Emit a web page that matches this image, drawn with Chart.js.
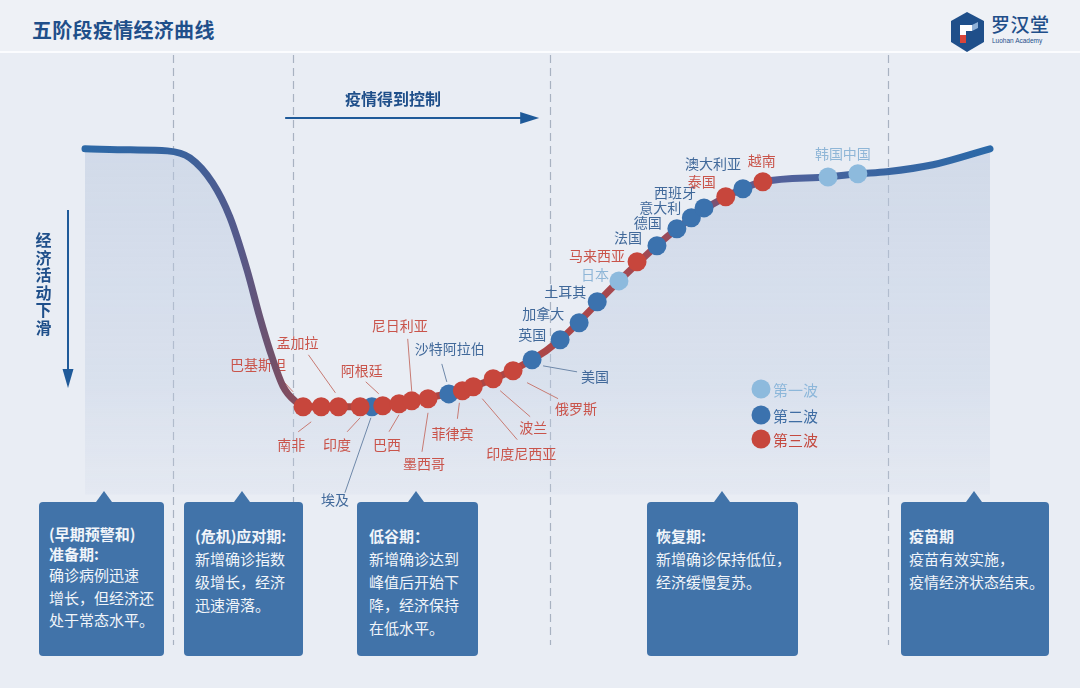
<!DOCTYPE html>
<html><head><meta charset="utf-8">
<script src="https://cdn.jsdelivr.net/npm/chart.js@4.4.0/dist/chart.umd.min.js"></script>
<style>
html,body{margin:0;padding:0;}
body{width:1080px;height:688px;position:relative;overflow:hidden;background:#e9edf4;font-family:"Noto Sans CJK SC","Noto Sans",sans-serif;}
#hdr{position:absolute;left:0;top:0;width:1080px;height:51px;background:#eef1f6;border-bottom:2px solid #fbfcfe;}
#title{position:absolute;left:32px;top:16px;font-size:20px;line-height:28px;font-weight:700;color:#1f4f8a;letter-spacing:0.3px;}
#cv{position:absolute;left:0;top:0;}
#logo{position:absolute;left:948px;top:10px;}
#logoT{position:absolute;left:991px;top:12px;font-size:19px;line-height:24px;color:#1f4f8a;font-weight:500;letter-spacing:0.5px;}
#logoS{position:absolute;left:992px;top:37px;font-size:6.5px;line-height:8px;color:#1f4f8a;font-family:"Liberation Sans",sans-serif;}
#ctrl{position:absolute;left:345px;top:87px;font-size:16px;line-height:22px;font-weight:700;color:#1f4f8a;}
#vt{position:absolute;left:35px;top:231px;width:17px;font-size:16px;line-height:17.6px;font-weight:700;color:#1f4f8a;text-align:center;}
.box{position:absolute;top:502px;height:154px;background:#4173a9;border-radius:4px;color:#f1f5fa;font-size:15px;line-height:23px;padding-top:22px;box-sizing:border-box;}
.box:before{content:"";position:absolute;top:-11px;left:var(--tip);border-left:8px solid transparent;border-right:8px solid transparent;border-bottom:11px solid #4173a9;}
.box b{font-weight:700;}
</style>
</head><body>
<div id="hdr"></div>
<div id="title">五阶段疫情经济曲线</div>
<svg id="logo" width="40" height="44" viewBox="0 0 40 44">
  <polygon points="19,2 36,11 36,32 19,42 3,32 3,11" fill="#1f4f8a"/>
  <polygon points="12,15 24,15 24,21 18,21 18,33 12,33" fill="#ffffff"/>
  <rect x="12" y="25" width="6" height="8" fill="#d9453a"/>
  <polygon points="24,15 30,12 30,18 24,21" fill="#8fb0d6"/>
</svg>
<div id="logoT">罗汉堂</div>
<div id="logoS">Luohan Academy</div>
<canvas id="cv" width="1080" height="688"></canvas>
<div id="ctrl">疫情得到控制</div>
<div id="vt">经<br>济<br>活<br>动<br>下<br>滑</div>

<div class="box" style="left:39px;width:125px;padding-left:10px;--tip:57px;"><b style="line-height:19.5px;display:block;">(早期预警和)<br>准备期:</b><div style="margin-top:1px;line-height:22.5px">确诊病例迅速<br>增长，但经济还<br>处于常态水平。</div></div>
<div class="box" style="left:184px;width:119px;padding-left:11px;--tip:50px;"><b>(危机)应对期:</b><br>新增确诊指数<br>级增长，经济<br>迅速滑落。</div>
<div class="box" style="left:357px;width:121px;padding-left:12px;--tip:51px;"><b>低谷期：</b><br>新增确诊达到<br>峰值后开始下<br>降，经济保持<br>在低水平。</div>
<div class="box" style="left:647px;width:151px;padding-left:9px;--tip:67px;"><b>恢复期:</b><br>新增确诊保持低位，<br>经济缓慢复苏。</div>
<div class="box" style="left:901px;width:148px;padding-left:8px;--tip:65px;"><b>疫苗期</b><br>疫苗有效实施，<br>疫情经济状态结束。</div>

<script>
// ---- data ----
const curveX = [0, 5.0, 9.1, 11.6, 14.1, 16.0, 17.9, 19.3, 20.4, 21.9, 23.4, 24.1, 30.4, 36.1, 42.9, 49.4, 52.5, 59.0, 65.4, 70.8, 74.9, 82.1, 85.4, 88.6, 93.7, 100];
const curveY = [100, 99.6, 99.2, 96.5, 86.8, 73.6, 53.1, 34.9, 22.1, 7.8, 1.6, 0, 0, 2.3, 7.8, 18.2, 26.0, 48.8, 69.0, 81.4, 87.2, 89.1, 90.3, 91.1, 93.8, 100];

const countries = ['巴基斯坦','南非','孟加拉','印度','埃及','阿根廷','巴西','尼日利亚','墨西哥','沙特阿拉伯','菲律宾','印度尼西亚','波兰','俄罗斯','美国','英国','加拿大','土耳其','日本','马来西亚','法国','德国','意大利','西班牙','泰国','澳大利亚','越南','韩国','中国'];
const waves = [3,3,3,3,2,3,3,3,3,2,3,3,3,3,2,2,2,2,1,3,2,2,2,2,3,2,3,1,1];
const stageX = [24.1,26.1,28.0,30.4,31.7,32.9,34.7,36.1,37.9,40.2,41.7,42.9,45.1,47.3,49.4,52.5,54.6,56.6,59.0,61.0,63.2,65.4,67.0,68.4,70.8,72.7,74.9,82.1,85.4];
const economyY = [0,0,0,0,0,0.4,1.2,2.3,3.1,5.0,6.2,7.8,10.9,14.0,18.2,26.0,32.6,40.7,48.8,56.2,62.4,69.0,73.3,77.1,81.4,84.5,87.2,89.1,90.3];

const waveNames = ['第一波','第二波','第三波'];
const phaseBounds = [9.7, 23.0, 51.4, 88.7];
const fillFloor = -34;

// ---- layout / style (pixel offsets of labels relative to their points) ----
const labelLayout = [
  [-45,-42,-24,-30,-10,-15],[-30,38,-23,25,-10,15],[-41,-64,-30,-52,-3,-14],[-23,38,-13,25,0,11],
  [-37,93,-27,86,-1,11],[-21,-35,-17,-24,-4,-12],[-12,41,-10,28,0,11],[-12,-75,-4,-62,0,-10],
  [-4,65,-6,53,0,14],[1,-45,-7,-30,-2,-12],[-10,43,-5,28,-3,12],[48,67,44,53,9,12],
  [40,49,37,38,7,12],[63,38,45,28,14,12],[63,17,45,12,11,6],
  [-28,-5],[-36,-9],[-32,-10],[-24,-6],[-40,-6],[-29,-8],[-29,-6],[-31,-10],[-29,-15],[-24,-15],[-30,-25],[-1,-21],[1,-23],[-1,-20]
];
const pointColors = {1:'#8dbadd', 2:'#3b72ae', 3:'#c7463c'};
const labelColors = {1:'#8fb6d7', 2:'#41699a', 3:'#c9544b'};
const leaderColors = {1:'#9dbad6', 2:'#6d87a8', 3:'#c77a72'};
const FONT = '"Noto Sans CJK SC","Noto Sans",sans-serif';

function waveData(w){
  const out=[];
  for(let i=0;i<countries.length;i++) if(waves[i]===w) out.push({x:stageX[i], y:economyY[i], idx:i});
  return out;
}

const curveData = curveX.map((x,i)=>({x, y:curveY[i]}));

function lineGrad(ctx){
  const ch = ctx.chart, ca = ch.chartArea;
  if(!ca) return '#2d69a7';
  const g = ch.ctx.createLinearGradient(ca.left,0,ca.right,0);
  g.addColorStop(0,'#2d69a7'); g.addColorStop(0.10,'#37639f'); g.addColorStop(0.17,'#55598a');
  g.addColorStop(0.21,'#735068'); g.addColorStop(0.25,'#9a4852'); g.addColorStop(0.28,'#ae453f');
  g.addColorStop(0.55,'#ab4649'); g.addColorStop(0.63,'#a04a55'); g.addColorStop(0.70,'#7a5274');
  g.addColorStop(0.76,'#54609a'); g.addColorStop(0.86,'#3d65a0'); g.addColorStop(1,'#2b69a8');
  return g;
}
function fillGrad(ctx){
  const ch = ctx.chart, ca = ch.chartArea;
  if(!ca) return 'rgba(190,203,224,0.4)';
  const yb = ch.scales.y.getPixelForValue(fillFloor);
  const g = ch.ctx.createLinearGradient(0,ca.top,0,yb);
  g.addColorStop(0,'rgba(185,199,222,0.52)');
  g.addColorStop(0.7,'rgba(192,205,227,0.38)');
  g.addColorStop(1,'rgba(205,214,231,0.18)');
  return g;
}

const decor = {
  id:'decor',
  beforeDatasetsDraw(chart){
    const c = chart.ctx, xs = chart.scales.x;
    c.save();
    // phase dashed lines
    c.strokeStyle = '#a8b2c1'; c.lineWidth = 1.2; c.setLineDash([8,5]);
    phaseBounds.forEach(b=>{
      const px = Math.round(xs.getPixelForValue(b))+0.5;
      c.beginPath(); c.moveTo(px,55); c.lineTo(px,645); c.stroke();
    });
    c.setLineDash([]);
    // control arrow
    const ax0 = xs.getPixelForValue(phaseBounds[1]) - 8, ax1 = xs.getPixelForValue(phaseBounds[2]) - 11, ay = 118;
    c.strokeStyle = '#1f5a99'; c.fillStyle = '#1f5a99'; c.lineWidth = 2;
    c.beginPath(); c.moveTo(ax0,ay); c.lineTo(ax1-14,ay); c.stroke();
    c.beginPath(); c.moveTo(ax1,ay); c.lineTo(ax1-19,ay-6); c.lineTo(ax1-19,ay+6); c.closePath(); c.fill();
    // vertical arrow
    c.beginPath(); c.moveTo(68,210); c.lineTo(68,375); c.stroke();
    c.beginPath(); c.moveTo(68,388); c.lineTo(62.5,369); c.lineTo(73.5,369); c.closePath(); c.fill();
    c.restore();
  },
  beforeDatasetDraw(chart, args){
    // country labels: above the area fill, below the curve and the dots
    if(args.index !== 0) return;
    const c = chart.ctx, xs = chart.scales.x, ys = chart.scales.y;
    c.save();
    c.font = '14px ' + FONT; c.textAlign='center'; c.textBaseline='middle';
    countries.forEach((name,i)=>{
      const px = xs.getPixelForValue(stageX[i]), py = ys.getPixelForValue(economyY[i]);
      const L = labelLayout[i], w = waves[i];
      if(L.length>2){
        c.strokeStyle = leaderColors[w]; c.lineWidth = 1;
        c.beginPath(); c.moveTo(px+L[2],py+L[3]); c.lineTo(px+L[4],py+L[5]); c.stroke();
      }
      c.fillStyle = labelColors[w];
      c.fillText(name, px+L[0], py+L[1]);
    });
    c.restore();
  },
  afterDatasetsDraw(chart){
    const c = chart.ctx;
    c.save();
    const lx = 761, lys = [389,415,439];
    c.font = '15px ' + FONT; c.textAlign='left'; c.textBaseline='middle';
    [1,2,3].forEach((w,k)=>{
      c.fillStyle = pointColors[w];
      c.beginPath(); c.arc(lx,lys[k],9.5,0,Math.PI*2); c.fill();
      c.fillStyle = w===1 ? '#8db7da' : (w===2 ? '#3f6da3' : '#c44a40');
      c.fillText(waveNames[k], lx+12, lys[k]+1);
    });
    c.restore();
  }
};

function scatterDS(w, order){
  return {
    type:'scatter', label: waveNames[w-1], data: waveData(w), order,
    pointRadius: 9.5, pointHoverRadius: 9.5, pointBackgroundColor: pointColors[w],
    pointBorderWidth: 0, borderWidth: 0, showLine:false, clip:false
  };
}

new Chart(document.getElementById('cv'), {
  type:'line',
  data:{ datasets:[
    { label:'经济活动', data: curveData, order: 10, borderColor: lineGrad, backgroundColor: fillGrad,
      borderWidth: 7, borderCapStyle:'round', borderJoinStyle:'round', fill:{value: fillFloor},
      cubicInterpolationMode:'monotone', pointRadius:0, clip:false },
    scatterDS(3,1), scatterDS(2,2), scatterDS(1,3)
  ]},
  options:{
    responsive:false, animation:false, events:[],
    layout:{ padding:{left:85, right:90, top:123, bottom:49} },
    scales:{
      x:{ type:'linear', min:0, max:100, display:false },
      y:{ type:'linear', min:-90, max:110, display:false }
    },
    plugins:{ legend:{display:false}, tooltip:{enabled:false} }
  },
  plugins:[decor]
});
</script>
</body></html>
